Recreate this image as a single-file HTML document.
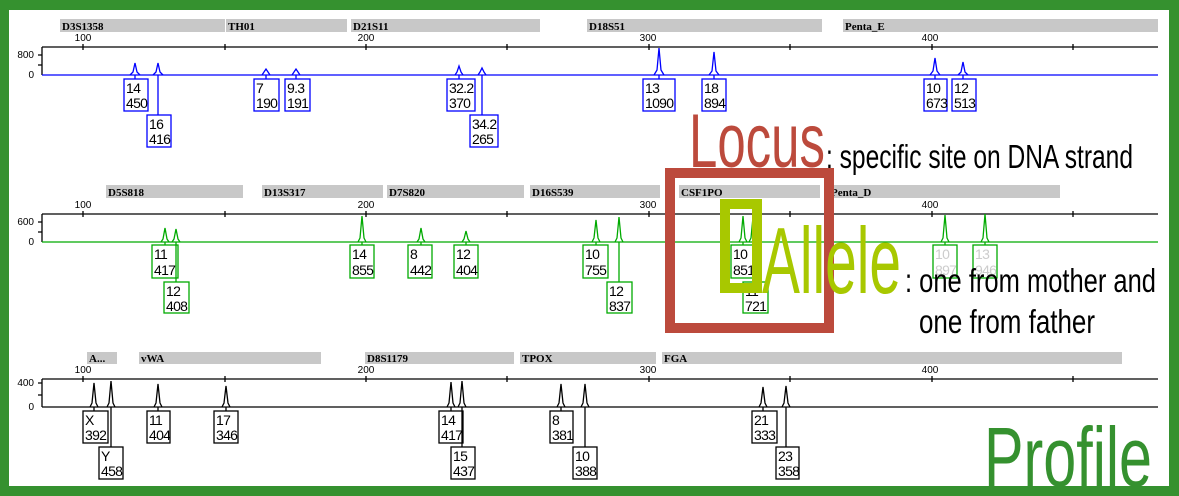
<!DOCTYPE html>
<html><head><meta charset="utf-8"><style>
html,body{margin:0;padding:0;background:#fff;}
svg{display:block;}
.lb{font-family:"Liberation Serif",serif;font-weight:bold;font-size:11px;fill:#000;}
.sc{font-family:"Liberation Sans",sans-serif;font-size:10px;fill:#000;}
.bx{font-family:"Liberation Sans Narrow","Liberation Sans",sans-serif;font-size:14px;fill:#000;letter-spacing:-0.7px;}
.big{font-family:"Liberation Sans Narrow","Liberation Sans",sans-serif;}
</style></head><body>
<svg width="1179" height="496" viewBox="0 0 1179 496" xmlns="http://www.w3.org/2000/svg">
<rect x="0" y="0" width="1179" height="496" fill="#35912f"/>
<rect x="9" y="10" width="1160" height="476" fill="#fff"/>

<!-- Panel 1 -->
<g fill="#c8c8c8">
<rect x="60" y="19" width="165" height="13"/><rect x="226" y="19" width="121" height="13"/><rect x="351" y="19" width="189" height="13"/><rect x="587" y="19" width="235" height="13"/><rect x="843" y="19" width="315" height="13"/>
</g>
<text class="lb" x="62" y="30">D3S1358</text><text class="lb" x="228" y="30">TH01</text><text class="lb" x="353" y="30">D21S11</text><text class="lb" x="589" y="30">D18S51</text><text class="lb" x="845" y="30">Penta_E</text>
<g class="sc" text-anchor="middle"><text x="83" y="41">100</text><text x="366" y="41">200</text><text x="648" y="41">300</text><text x="930" y="41">400</text></g>
<g stroke="#000" stroke-width="1.3" fill="none">
<path d="M42 47H1158M83 44V50M225 44V50M366 44V50M507 44V50M649 44V50M790 44V50M932 44V50M1073 44V50M42 47V75M38 55H42M38 65H42"/>
</g>
<text class="sc" x="34" y="58" text-anchor="end">800</text><text class="sc" x="34" y="78" text-anchor="end">0</text>
<g stroke="#0000ff" stroke-width="1.3" fill="none">
<path d="M42 75H1158"/>
<path d="M130 75L133 72L135 63L137 72L140 75M153 75L156 72L158 63L160 72L163 75M262 75L264 72L266 69L268 72L270 75M292 75L294 72L296 69L298 72L300 75M455 75L457 72L459 66L461 72L463 75M478 75L480 72L482 68L484 72L486 75M654 75L657 70L659 48L661 70L664 75M709 75L712 71L714 52L716 71L719 75M930 75L933 71L935 58L937 71L940 75M958 75L961 72L963 62L965 72L968 75"/>
<path d="M135 75V79M266 75V79M296 75V79M459 75V79M659 75V79M714 75V79M935 75V79M963 75V79M158 75V115M482 75V115"/>
<rect x="124" y="79" width="24" height="32"/><rect x="254" y="79" width="25" height="32"/><rect x="285" y="79" width="25" height="32"/><rect x="447" y="79" width="28" height="32"/><rect x="643" y="79" width="32" height="32"/><rect x="702" y="79" width="24" height="32"/><rect x="924" y="79" width="23" height="32"/><rect x="952" y="79" width="24" height="32"/>
<rect x="147" y="115" width="24" height="32"/><rect x="470" y="115" width="28" height="32"/>
</g>
<g class="bx">
<text x="126" y="93">14</text><text x="126" y="108">450</text>
<text x="256" y="93">7</text><text x="256" y="108">190</text>
<text x="287" y="93">9.3</text><text x="287" y="108">191</text>
<text x="449" y="93">32.2</text><text x="449" y="108">370</text>
<text x="645" y="93">13</text><text x="645" y="108">1090</text>
<text x="704" y="93">18</text><text x="704" y="108">894</text>
<text x="926" y="93">10</text><text x="926" y="108">673</text>
<text x="954" y="93">12</text><text x="954" y="108">513</text>
<text x="149" y="129">16</text><text x="149" y="144">416</text>
<text x="472" y="129">34.2</text><text x="472" y="144">265</text>
</g>

<!-- Panel 2 -->
<g fill="#c8c8c8">
<rect x="106" y="185" width="137" height="13"/><rect x="262" y="185" width="121" height="13"/><rect x="387" y="185" width="137" height="13"/><rect x="530" y="185" width="130" height="13"/><rect x="679" y="185" width="141" height="13"/><rect x="830" y="185" width="230" height="13"/>
</g>
<text class="lb" x="108" y="196">D5S818</text><text class="lb" x="264" y="196">D13S317</text><text class="lb" x="389" y="196">D7S820</text><text class="lb" x="532" y="196">D16S539</text><text class="lb" x="681" y="196">CSF1PO</text><text class="lb" x="831" y="196">Penta_D</text>
<g class="sc" text-anchor="middle"><text x="83" y="208">100</text><text x="366" y="208">200</text><text x="648" y="208">300</text><text x="930" y="208">400</text></g>
<g stroke="#000" stroke-width="1.3" fill="none">
<path d="M42 214H1158M83 211V217M225 211V217M366 211V217M507 211V217M649 211V217M790 211V217M932 211V217M1073 211V217M42 214V242M38 222H42M38 232H42"/>
</g>
<text class="sc" x="34" y="225" text-anchor="end">600</text><text class="sc" x="34" y="245" text-anchor="end">0</text>
<g stroke="#00aa00" stroke-width="1.3" fill="none">
<path d="M42 242H1158"/>
<path d="M161 242L163 239L165 228L167 239L169 242M172 242L174 239L176 229L178 239L180 242M358 242L360 238L362 216L364 238L366 242M417 242L419 239L421 228L423 239L425 242M462 242L464 239L466 231L468 239L470 242M592 242L594 238L596 220L598 238L600 242M615 242L617 238L619 217L621 238L623 242M739 242L741 238L743 216L745 238L747 242M749 242L751 238L753 217L755 238L757 242M941 242L943 238L945 215L947 238L949 242M981 242L983 238L985 214L987 238L989 242"/>
<path d="M165 242V245M362 242V245M421 242V245M466 242V245M596 242V245M743 242V245M945 242V245M985 242V245M176 242V282M619 242V282M753 242V282"/>
<rect x="152" y="245" width="26" height="33"/><rect x="350" y="245" width="24" height="33"/><rect x="408" y="245" width="24" height="33"/><rect x="454" y="245" width="24" height="33"/><rect x="583" y="245" width="25" height="33"/><rect x="731" y="245" width="22" height="33"/><rect x="933" y="245" width="24" height="33"/><rect x="973" y="245" width="24" height="33"/>
<rect x="164" y="282" width="25" height="31"/><rect x="607" y="282" width="25" height="31"/><rect x="743" y="282" width="25" height="31"/>
</g>
<g class="bx">
<text x="154" y="259">11</text><text x="154" y="275">417</text>
<text x="352" y="259">14</text><text x="352" y="275">855</text>
<text x="410" y="259">8</text><text x="410" y="275">442</text>
<text x="456" y="259">12</text><text x="456" y="275">404</text>
<text x="585" y="259">10</text><text x="585" y="275">755</text>
<text x="733" y="259">10</text><text x="733" y="275">851</text>
<text x="935" y="259" fill="#cccccc">10</text><text x="935" y="275" fill="#cccccc">897</text>
<text x="975" y="259" fill="#cccccc">13</text><text x="975" y="275" fill="#cccccc">946</text>
<text x="166" y="296">12</text><text x="166" y="311">408</text>
<text x="609" y="296">12</text><text x="609" y="311">837</text>
<text x="745" y="296">11</text><text x="745" y="311">721</text>
</g>

<!-- Panel 3 -->
<g fill="#c8c8c8">
<rect x="87" y="352" width="30" height="12"/><rect x="139" y="352" width="182" height="12"/><rect x="365" y="352" width="149" height="12"/><rect x="520" y="352" width="136" height="12"/><rect x="662" y="352" width="460" height="12"/>
</g>
<text class="lb" x="89" y="362">A...</text><text class="lb" x="141" y="362">vWA</text><text class="lb" x="367" y="362">D8S1179</text><text class="lb" x="522" y="362">TPOX</text><text class="lb" x="664" y="362">FGA</text>
<g class="sc" text-anchor="middle"><text x="83" y="373">100</text><text x="366" y="373">200</text><text x="648" y="373">300</text><text x="930" y="373">400</text></g>
<g stroke="#000" stroke-width="1.3" fill="none">
<path d="M42 379H1158M83 376V382M225 376V382M366 376V382M507 376V382M649 376V382M790 376V382M932 376V382M1073 376V382M42 379V407M38 383H42M38 395H42"/>
<path d="M42 407H1158"/>
<path d="M90 407L92 403L94 383L96 403L98 407M107 407L109 403L111 381L113 403L115 407M154 407L156 403L158 384L160 403L162 407M222 407L224 403L226 386L228 403L230 407M447 407L449 403L451 382L453 403L455 407M458 407L460 403L462 381L464 403L466 407M557 407L559 403L561 384L563 403L565 407M581 407L583 403L585 384L587 403L589 407M759 407L761 403L763 387L765 403L767 407M782 407L784 403L786 386L788 403L790 407"/>
<path d="M94 407V411M158 407V411M226 407V411M451 407V411M561 407V411M763 407V411M111 407V447M462 407V447M585 407V447M786 407V447"/>
<rect x="83" y="411" width="25" height="32"/><rect x="147" y="411" width="23" height="32"/><rect x="214" y="411" width="24" height="32"/><rect x="439" y="411" width="24" height="32"/><rect x="550" y="411" width="23" height="32"/><rect x="752" y="411" width="25" height="32"/>
<rect x="99" y="447" width="24" height="32"/><rect x="451" y="447" width="24" height="32"/><rect x="573" y="447" width="24" height="32"/><rect x="776" y="447" width="23" height="32"/>
</g>
<text class="sc" x="34" y="386" text-anchor="end">400</text><text class="sc" x="34" y="410" text-anchor="end">0</text>
<g class="bx">
<text x="85" y="425">X</text><text x="85" y="440">392</text>
<text x="149" y="425">11</text><text x="149" y="440">404</text>
<text x="216" y="425">17</text><text x="216" y="440">346</text>
<text x="441" y="425">14</text><text x="441" y="440">417</text>
<text x="552" y="425">8</text><text x="552" y="440">381</text>
<text x="754" y="425">21</text><text x="754" y="440">333</text>
<text x="101" y="461">Y</text><text x="101" y="476">458</text>
<text x="453" y="461">15</text><text x="453" y="476">437</text>
<text x="575" y="461">10</text><text x="575" y="476">388</text>
<text x="778" y="461">23</text><text x="778" y="476">358</text>
</g>

<!-- Annotations -->
<rect x="670" y="173" width="159" height="155" fill="none" stroke="#bc4a3c" stroke-width="10"/>
<text class="big" x="689" y="167" font-size="76" fill="#bc4a3c" textLength="136" lengthAdjust="spacingAndGlyphs">Locus</text>
<text class="big" x="826" y="168" font-size="33" fill="#000" textLength="307" lengthAdjust="spacingAndGlyphs">: specific site on DNA strand</text>
<rect x="725" y="204" width="32" height="84" fill="none" stroke="#a8c800" stroke-width="10"/>
<text class="big" x="762" y="293" font-size="94" fill="#a8c800" textLength="139" lengthAdjust="spacingAndGlyphs">Allele</text>
<text class="big" x="905" y="292" font-size="33" fill="#000" textLength="251" lengthAdjust="spacingAndGlyphs">: one from mother and</text>
<text class="big" x="919" y="333" font-size="33" fill="#000" textLength="176" lengthAdjust="spacingAndGlyphs">one from father</text>
<text class="big" x="984" y="486" font-size="84" fill="#35912f" textLength="168" lengthAdjust="spacingAndGlyphs">Profile</text>
<rect x="0" y="486" width="1179" height="10" fill="#35912f"/>
</svg>
</body></html>
